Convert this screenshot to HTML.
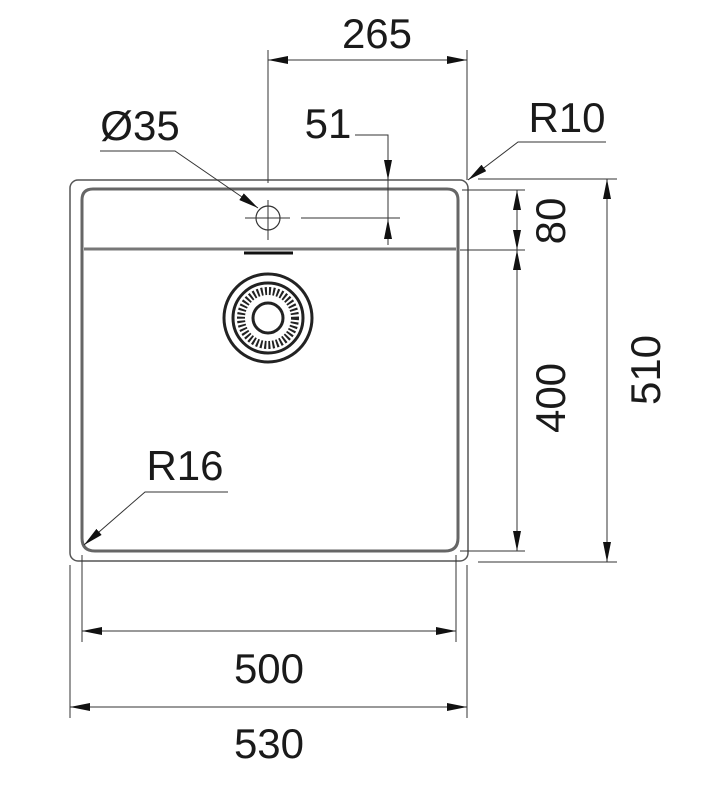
<!DOCTYPE html>
<html><head><meta charset="utf-8"><style>
html,body{margin:0;padding:0;background:#fff;}
svg{display:block;}
text{font-family:"Liberation Sans",Arial,sans-serif;fill:#1a1a1a;}
</style></head><body>
<svg width="716" height="800" viewBox="0 0 716 800" xmlns="http://www.w3.org/2000/svg">
<defs>
<marker id="a" viewBox="0 0 20 8" refX="20" refY="4" markerWidth="20" markerHeight="8" markerUnits="userSpaceOnUse" orient="auto-start-reverse">
<path d="M0,0 L20,4 L0,8 Z" fill="#111"/></marker>
</defs>
<g fill="none" stroke="#333">
<rect x="70" y="180" width="398" height="381" rx="8" stroke="#555" stroke-width="1.5"/>
<path d="M82,250 V200 Q82,189 93,189 H447 Q458,189 458,200 V250" stroke="#666" stroke-width="3"/>
<path d="M82,250 V538 Q82,551 95,551 H445 Q458,551 458,538 V250" stroke="#666" stroke-width="3"/>
<line x1="84" y1="249" x2="456" y2="249" stroke="#777" stroke-width="3"/>
<line x1="244" y1="253" x2="293" y2="253" stroke="#111" stroke-width="3"/>
<circle cx="268" cy="218" r="12" stroke="#333" stroke-width="1.2"/>
<line x1="245" y1="218" x2="290" y2="218" stroke-width="1"/>
<line x1="268" y1="200" x2="268" y2="240" stroke-width="1"/>
<line x1="301" y1="218" x2="400" y2="218" stroke-width="1"/>
<circle cx="268" cy="318" r="44" stroke="#222" stroke-width="3"/>
<circle cx="268" cy="318" r="35" stroke="#222" stroke-width="3"/>
<circle cx="268" cy="318" r="27" stroke="#222" stroke-width="8" stroke-dasharray="2 2"/>
<circle cx="268" cy="318" r="15" stroke="#222" stroke-width="3"/>
<line x1="268" y1="50" x2="268" y2="183" stroke-width="1"/>
<line x1="467" y1="50" x2="467" y2="180" stroke-width="1"/>
<line x1="268" y1="60" x2="467" y2="60" stroke-width="1" marker-start="url(#a)" marker-end="url(#a)"/>
<polyline points="100,151 175,151 258,208" stroke-width="1" marker-end="url(#a)"/>
<polyline points="355,135 388,135 388,180" stroke-width="1" marker-end="url(#a)"/>
<line x1="388" y1="245" x2="388" y2="219" stroke-width="1" marker-end="url(#a)"/>
<line x1="388" y1="180" x2="388" y2="219" stroke-width="1"/>
<polyline points="606,142 518,142 468,180" stroke-width="1" marker-end="url(#a)"/>
<line x1="478" y1="179" x2="617" y2="179" stroke-width="1"/>
<line x1="478" y1="562" x2="617" y2="562" stroke-width="1"/>
<line x1="607" y1="179" x2="607" y2="562" stroke-width="1" marker-start="url(#a)" marker-end="url(#a)"/>
<line x1="462" y1="190" x2="525" y2="190" stroke-width="1"/>
<line x1="460" y1="250" x2="525" y2="250" stroke-width="1"/>
<line x1="517" y1="190" x2="517" y2="250" stroke-width="1" marker-start="url(#a)" marker-end="url(#a)"/>
<line x1="517" y1="250" x2="517" y2="551" stroke-width="1" marker-start="url(#a)" marker-end="url(#a)"/>
<line x1="460" y1="551" x2="525" y2="551" stroke-width="1"/>
<polyline points="228,492 145,492 84,545" stroke-width="1" marker-end="url(#a)"/>
<line x1="82" y1="555" x2="82" y2="642" stroke-width="1"/>
<line x1="456" y1="555" x2="456" y2="642" stroke-width="1"/>
<line x1="82" y1="631" x2="456" y2="631" stroke-width="1" marker-start="url(#a)" marker-end="url(#a)"/>
<line x1="70" y1="565" x2="70" y2="718" stroke-width="1"/>
<line x1="467" y1="565" x2="467" y2="718" stroke-width="1"/>
<line x1="70" y1="707" x2="467" y2="707" stroke-width="1" marker-start="url(#a)" marker-end="url(#a)"/>
</g>
<g font-size="42">
<text x="377" y="48" text-anchor="middle">265</text>
<text x="140" y="140" text-anchor="middle">Ø35</text>
<text x="328" y="138" text-anchor="middle">51</text>
<text x="567" y="132" text-anchor="middle">R10</text>
<text x="185" y="480" text-anchor="middle">R16</text>
<text x="269" y="683" text-anchor="middle">500</text>
<text x="269" y="758" text-anchor="middle">530</text>
<text transform="translate(565,221) rotate(-90)" text-anchor="middle">80</text>
<text transform="translate(565,398) rotate(-90)" text-anchor="middle">400</text>
<text transform="translate(660,370) rotate(-90)" text-anchor="middle">510</text>
</g>
</svg>
</body></html>
